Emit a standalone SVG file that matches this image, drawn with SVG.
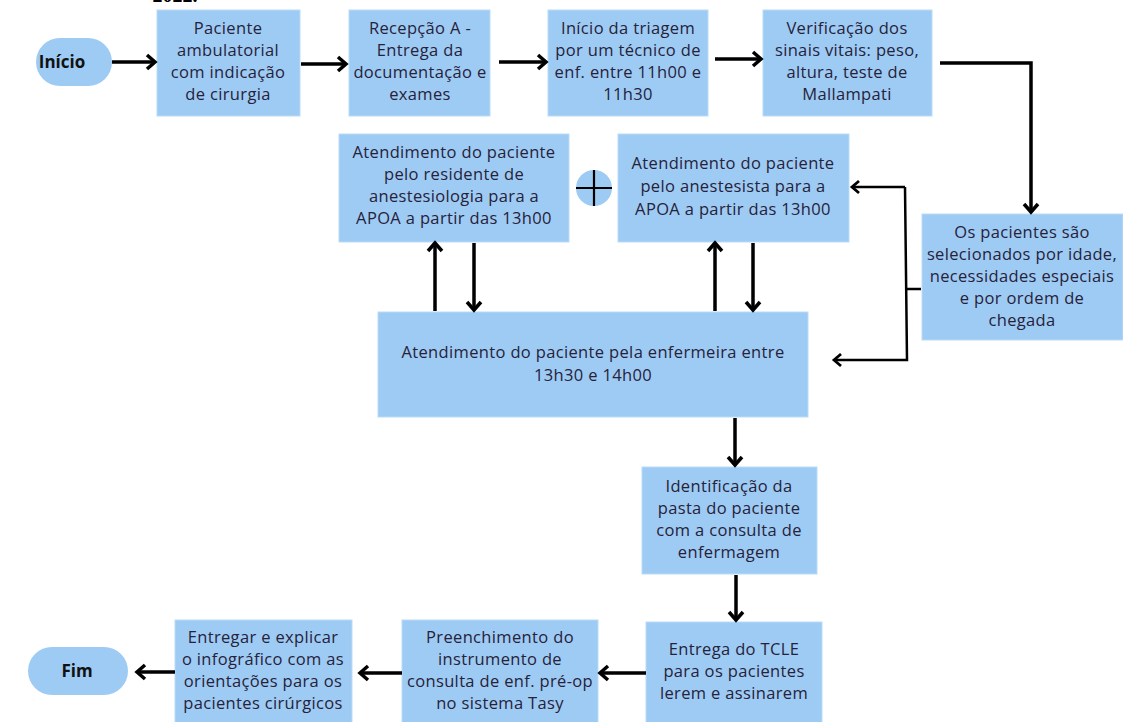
<svg xmlns="http://www.w3.org/2000/svg" width="1123" height="722" viewBox="0 0 1123 722">
<style>
.box{fill:#9ecbf4;stroke:#b9dbf7;stroke-width:1}
.t{font-family:"Open Sans","Noto Sans",sans-serif;font-size:16.5px;letter-spacing:0.35px;fill:#26223a;text-anchor:middle}
.b{font-family:"Open Sans","Noto Sans",sans-serif;font-size:17px;font-weight:bold;fill:#111;text-anchor:middle}
.a{fill:none;stroke:#000;stroke-width:3.5}
.l{fill:none;stroke:#000;stroke-width:2.5}
</style>
<defs>
<marker id="ah" markerUnits="userSpaceOnUse" markerWidth="20" markerHeight="20" refX="14" refY="10" orient="auto">
<path d="M6,3 L14,10 L6,17" fill="none" stroke="#000" stroke-width="3.5"/>
</marker>
<marker id="ah2" markerUnits="userSpaceOnUse" markerWidth="20" markerHeight="20" refX="13" refY="10" orient="auto">
<path d="M6,4 L13,10 L6,16" fill="none" stroke="#000" stroke-width="2.8"/>
</marker>
</defs>
<text x="175" y="1.5" style="font-family:'Liberation Serif',serif;font-size:20px;font-weight:bold" text-anchor="middle">2022.</text>
<g id="inicio"><rect x="36" y="38" width="76" height="48" rx="24" fill="#9ecbf4"/><text class="b" x="62" y="68">Início</text></g>
<g id="n1"><rect class="box" x="157" y="10" width="143" height="106"/>
<text class="t" x="228" y="34">Paciente</text><text class="t" x="228" y="56">ambulatorial</text><text class="t" x="228" y="78">com indicação</text><text class="t" x="228" y="100">de cirurgia</text></g>
<g id="n2"><rect class="box" x="349" y="10" width="141" height="106"/>
<text class="t" x="420" y="34">Recepção A -</text><text class="t" x="420" y="56">Entrega da</text><text class="t" x="420" y="78">documentação e</text><text class="t" x="420" y="100">exames</text></g>
<g id="n3"><rect class="box" x="548" y="10" width="160" height="106"/>
<text class="t" x="628" y="34">Início da triagem</text><text class="t" x="628" y="56">por um técnico de</text><text class="t" x="628" y="78">enf. entre 11h00 e</text><text class="t" x="628" y="100">11h30</text></g>
<g id="n4"><rect class="box" x="763" y="10" width="169" height="106"/>
<text class="t" x="847" y="34">Verificação dos</text><text class="t" x="847" y="56">sinais vitais: peso,</text><text class="t" x="847" y="78">altura, teste de</text><text class="t" x="847" y="100">Mallampati</text></g>
<g id="n5"><rect class="box" x="922" y="214" width="201" height="126"/>
<text class="t" x="1022" y="238">Os pacientes são</text><text class="t" x="1022" y="260">selecionados por idade,</text><text class="t" x="1022" y="282">necessidades especiais</text><text class="t" x="1022" y="304">e por ordem de</text><text class="t" x="1022" y="326">chegada</text></g>
<g id="n6"><rect class="box" x="339" y="134" width="230" height="108"/>
<text class="t" x="454" y="158">Atendimento do paciente</text><text class="t" x="454" y="180">pelo residente de</text><text class="t" x="454" y="202">anestesiologia para a</text><text class="t" x="454" y="224">APOA a partir das 13h00</text></g>
<g id="plus"><circle cx="594" cy="188" r="18" fill="#9ecbf4"/><path d="M576,188 H612 M594,170 V206" stroke="#000" stroke-width="2.2"/></g>
<g id="n7"><rect class="box" x="618" y="134" width="231" height="108"/>
<text class="t" x="733" y="169">Atendimento do paciente</text><text class="t" x="733" y="192">pelo anestesista para a</text><text class="t" x="733" y="215">APOA a partir das 13h00</text></g>
<g id="n8"><rect class="box" x="378" y="312" width="430" height="105"/>
<text class="t" x="593" y="358">Atendimento do paciente pela enfermeira entre</text><text class="t" x="593" y="381">13h30 e 14h00</text></g>
<g id="n9"><rect class="box" x="642" y="467" width="175" height="107"/>
<text class="t" x="729" y="492">Identificação da</text><text class="t" x="729" y="514">pasta do paciente</text><text class="t" x="729" y="536">com a consulta de</text><text class="t" x="729" y="558">enfermagem</text></g>
<g id="n10"><rect class="box" x="646" y="622" width="176" height="104"/>
<text class="t" x="734" y="655">Entrega do TCLE</text><text class="t" x="734" y="677">para os pacientes</text><text class="t" x="734" y="699">lerem e assinarem</text></g>
<g id="n11"><rect class="box" x="402" y="620" width="196" height="106"/>
<text class="t" x="500" y="643">Preenchimento do</text><text class="t" x="500" y="665">instrumento de</text><text class="t" x="500" y="687">consulta de enf. pré-op</text><text class="t" x="500" y="709">no sistema Tasy</text></g>
<g id="n12"><rect class="box" x="175" y="620" width="177" height="106"/>
<text class="t" x="263" y="643">Entregar e explicar</text><text class="t" x="263" y="665">o infográfico com as</text><text class="t" x="263" y="687">orientações para os</text><text class="t" x="263" y="709">pacientes cirúrgicos</text></g>
<g id="fim"><rect x="28" y="647" width="100" height="48" rx="24" fill="#9ecbf4"/><text class="b" x="77" y="677">Fim</text></g>
<g id="connectors">
<path class="a" d="M112,62 H155" marker-end="url(#ah)"/>
<path class="a" d="M301,64 H346" marker-end="url(#ah)"/>
<path class="a" d="M499,62 H546" marker-end="url(#ah)"/>
<path class="a" d="M715,59 H761" marker-end="url(#ah)"/>
<path class="a" d="M940,63 H1031 V212" marker-end="url(#ah)"/>
<path class="l" d="M921,289 H907"/>
<path class="l" d="M905,187 H852" marker-end="url(#ah2)"/>
<path class="l" d="M905,187 L907,360 H834" marker-end="url(#ah2)"/>
<path class="a" d="M435,311 V243" marker-end="url(#ah)"/>
<path class="a" d="M474,243 V310" marker-end="url(#ah)"/>
<path class="a" d="M715,311 V243" marker-end="url(#ah)"/>
<path class="a" d="M753,243 V310" marker-end="url(#ah)"/>
<path class="a" d="M735,418 V465" marker-end="url(#ah)"/>
<path class="a" d="M736,575 V620" marker-end="url(#ah)"/>
<path class="a" d="M646,673 H600" marker-end="url(#ah)"/>
<path class="a" d="M402,673 H360" marker-end="url(#ah)"/>
<path class="a" d="M175,672 H137" marker-end="url(#ah)"/>
</g>
</svg>
